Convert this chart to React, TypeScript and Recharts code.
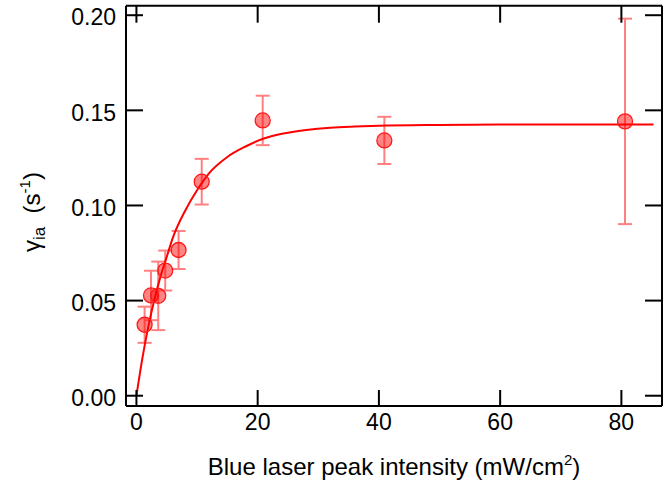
import React from 'react';
import { ComposedChart, Line, Scatter, XAxis, YAxis, ErrorBar, Label } from 'recharts';

// measured points
const intensity = [1.35, 2.4, 3.6, 4.75, 6.95, 10.77, 20.83, 40.9, 80.6];
const gamma = [0.0373, 0.0527, 0.0525, 0.0658, 0.0766, 0.1125, 0.1447, 0.1342, 0.1442];
const gammaErr = [0.0095, 0.013, 0.018, 0.0105, 0.01, 0.012, 0.013, 0.0124, 0.054];

// fit curve
const fitX = [0, 1, 2, 3, 4, 5, 6, 8, 10, 12, 15, 18, 21, 24, 28, 32, 36, 40, 50, 60, 85.3];
const fitY = [0, 0.02, 0.037, 0.051, 0.063, 0.073, 0.083, 0.097, 0.108, 0.117, 0.1255, 0.131, 0.1352, 0.1377, 0.1397, 0.1409, 0.1415, 0.1419, 0.1423, 0.1425, 0.1425];

const xTicks = [0, 20, 40, 60, 80];
const yTicks = [0, 0.05, 0.1, 0.15, 0.2];

const points = intensity.map((x, i) => ({ x, y: gamma[i], e: gammaErr[i] }));
const curve = fitX.map((x, i) => ({ x, y: fitY[i] }));

const FONT = "'Liberation Sans', Arial, sans-serif";
const TICK_FONT = 23;
const X_GAP = 8;
const Y_GAP = 10;

const Dot = (p: any) => (
  <circle cx={p.cx} cy={p.cy} r={7.5} fill="rgba(255,0,0,0.48)" stroke="#ff1a1a" strokeWidth={1.3} />
);

const LeftTick = (p: any) => (
  <g>
    <line x1={p.x + Y_GAP} x2={p.x + Y_GAP + 17} y1={p.y} y2={p.y} stroke="#000" strokeWidth={2} />
    <text x={p.x} y={p.y + 2} dy="0.355em" textAnchor="end" fontFamily={FONT} fontSize={TICK_FONT} fill="#000">
      {Number(p.payload.value).toFixed(2)}
    </text>
  </g>
);

const BottomTick = (p: any) => (
  <g>
    <line x1={p.x} x2={p.x} y1={p.y - X_GAP} y2={p.y - X_GAP - 16} stroke="#000" strokeWidth={2} />
    <text x={p.x} y={p.y} dy="0.71em" textAnchor="middle" fontFamily={FONT} fontSize={TICK_FONT} fill="#000">
      {String(p.payload.value)}
    </text>
  </g>
);

const TopTick = (p: any) => (
  <line x1={p.x} x2={p.x} y1={p.y} y2={p.y + 17} stroke="#000" strokeWidth={2} />
);

const RightTick = (p: any) => (
  <line x1={p.x - 17} x2={p.x} y1={p.y} y2={p.y} stroke="#000" strokeWidth={2} />
);

const XLabel = () => (
  <text x={394} y={475} textAnchor="middle" fontFamily={FONT} fontSize={24} fill="#000">
    Blue laser peak intensity (mW/cm
    <tspan dy={-10} fontSize={15}>2</tspan>
    <tspan dy={10}>)</tspan>
  </text>
);

const YLabel = () => (
  <text x={40} y={212} transform="rotate(-90, 40, 212)" textAnchor="middle" fontFamily={FONT} fontSize={24} fill="#000">
    γ
    <tspan dy={5} fontSize={17}>ia</tspan>
    <tspan dy={-5}>{'\u00A0\u00A0(s'}</tspan>
    <tspan dy={-10} fontSize={15}>-1</tspan>
    <tspan dy={10}>)</tspan>
  </text>
);

const axisLine = { stroke: '#000', strokeWidth: 2 };

export default function App() {
  return (
    <div style={{ position: 'absolute', left: 0, top: 0, background: '#fff' }}>
      <ComposedChart width={671} height={485} margin={{ top: 0, right: 0, bottom: 0, left: 0 }}>
        <XAxis
          xAxisId="b"
          dataKey="x"
          type="number"
          domain={[-1.72, 86.7]}
          allowDataOverflow
          ticks={xTicks}
          interval={0}
          height={79}
          tickSize={0}
          tickMargin={X_GAP}
          axisLine={axisLine}
          tickLine={false}
          tick={BottomTick}
        >
          <Label content={XLabel} />
        </XAxis>
        <XAxis
          xAxisId="t"
          orientation="top"
          dataKey="x"
          type="number"
          domain={[-1.72, 86.7]}
          allowDataOverflow
          ticks={xTicks}
          interval={0}
          height={5.7}
          tickSize={0}
          tickMargin={0}
          axisLine={axisLine}
          tickLine={false}
          tick={TopTick}
        />
        <YAxis
          yAxisId="l"
          type="number"
          domain={[-0.0054, 0.205]}
          allowDataOverflow
          ticks={yTicks}
          interval={0}
          width={126}
          tickSize={0}
          tickMargin={Y_GAP}
          axisLine={axisLine}
          tickLine={false}
          tick={LeftTick}
        >
          <Label content={YLabel} />
        </YAxis>
        <YAxis
          yAxisId="r"
          orientation="right"
          type="number"
          domain={[-0.0054, 0.205]}
          allowDataOverflow
          ticks={yTicks}
          interval={0}
          width={9}
          tickSize={0}
          tickMargin={0}
          axisLine={axisLine}
          tickLine={false}
          tick={RightTick}
        />
        <Scatter
          xAxisId="b"
          yAxisId="l"
          data={points}
          dataKey="y"
          shape={Dot}
          isAnimationActive={false}
        >
          <ErrorBar dataKey="e" direction="y" width={7} stroke="#ff8080" strokeWidth={2} isAnimationActive={false} />
        </Scatter>
        <Line
          xAxisId="b"
          yAxisId="l"
          data={curve}
          dataKey="y"
          type="monotone"
          stroke="#ff0000"
          strokeWidth={2}
          dot={false}
          activeDot={false}
          isAnimationActive={false}
        />
      </ComposedChart>
    </div>
  );
}
